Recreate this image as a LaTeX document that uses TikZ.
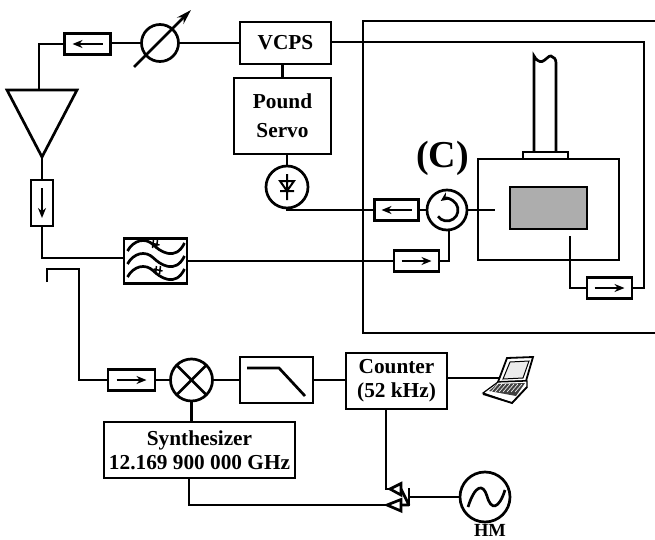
\documentclass[tikz,border=0pt]{standalone}
\usepackage{fontspec}
\setmainfont{Liberation Serif}
\usetikzlibrary{positioning,arrows.meta,shapes.geometric}
\begin{document}
\begin{tikzpicture}[
  x=1pt, y=-1pt,
  line width=2.7pt,
  >={Stealth[length=10pt,width=8pt]},
  box/.style={draw, line width=2.9pt, outer sep=0pt, inner sep=0pt, align=center, font=\fontsize{21.3}{24}\selectfont\bfseries},
  iso/.style={draw, line width=2.7pt, outer sep=0pt, inner sep=0pt},
  isoright/.style={iso, minimum width=46pt, minimum height=21pt, path picture={\draw[->, line width=2.4pt] ([xshift=-15pt]path picture bounding box.center) -- ([xshift=15pt]path picture bounding box.center);}},
  isoleft/.style={iso, minimum width=46pt, minimum height=21pt, path picture={\draw[->, line width=2.4pt] ([xshift=15pt]path picture bounding box.center) -- ([xshift=-15pt]path picture bounding box.center);}},
  isodown/.style={iso, minimum width=22pt, minimum height=46pt, path picture={\draw[->, line width=2.4pt] ([yshift=15pt]path picture bounding box.center) -- ([yshift=-15pt]path picture bounding box.center);}},
  ring/.style={draw, circle, line width=2.7pt, outer sep=0pt, inner sep=0pt, minimum size=#1},
  amp/.style={draw, isosceles triangle, isosceles triangle stretches, shape border rotate=270, line width=2.7pt, outer sep=0pt, inner sep=0pt, minimum width=70pt, minimum height=67pt}
]
\useasboundingbox (0,0) rectangle (655,540);

% loop
\node[box, minimum width=91pt, minimum height=42pt] (vcps) at (285.5,43) {VCPS};
\node[box, minimum width=97pt, minimum height=76pt, below=14pt of vcps, xshift=-3pt] (servo) {Pound\\[5pt]Servo};
\node[ring=37pt, left=61.5pt of vcps] (phase) {};
\node[isoleft, left=31pt of phase, yshift=-1pt] (isotop) {};
\node[amp, anchor=apex] (amp) at (42,157) {};
\node[isodown, below=23pt of amp.apex] (isodn) {};
\node[box, minimum width=63pt, minimum height=45pt] (filter) at (155.5,261) {};
\node[ring=42pt] (diode) at (287,187) {};
\node[ring=40pt] (circ) at (447,210) {};
\node[isoleft, left=8.5pt of circ, minimum width=44pt] (isoback) {};
\node[isoright, minimum width=45pt] (isoin) at (416.5,261) {};

% cavity
\node[box, minimum width=141pt, minimum height=101pt] (cavity) at (548.5,209.5) {};
\node[draw, line width=2.7pt, fill=black!32, outer sep=0pt, minimum width=77pt, minimum height=42pt] (sample) at (548.5,208) {};
\node[draw, line width=2.5pt, outer sep=0pt, minimum width=45pt, minimum height=7pt, above=0pt of cavity, xshift=-3pt] (flange) {};
\node[isoright, minimum width=45pt] (isoout) at (609.5,288) {};
\node[font=\fontsize{38}{38}\selectfont\bfseries] (clabel) at (442.5,158) {(C)};
\coordinate (enclo) at (363,21);
\coordinate (encbot) at (363,333);
\coordinate (encr) at (657,21);
\coordinate (encs) at (657,333);
\coordinate (probein) at (495,210);
\coordinate (probeout) at (570,236);
\coordinate (feedr) at (644,42);
\coordinate (stack) at (545,56);

% detection chain
\node[isoright, minimum width=47pt] (isolow) at (131.5,380) {};
\node[ring=42pt, right=15.5pt of isolow] (mixer) {};
\node[box, minimum width=73pt, minimum height=46pt] (lpf) at (276.5,380) {};
\node[box, minimum width=101pt, minimum height=56pt] (counter) at (396.5,381) {Counter\\(52 kHz)};
\node[box, minimum width=191pt, minimum height=56pt] (synth) at (199.5,450) {Synthesizer\\12.169 900 000 GHz};
\node[ring=50pt] (hm) at (485,497) {};
\node[font=\fontsize{18.5}{18.5}\selectfont\bfseries, inner sep=0pt] (hmlabel) at (490,530.5) {HM};
\coordinate (hookl) at (47,282);
\coordinate (hookm) at (47,269);
\coordinate (hookr) at (79,269);
\coordinate (laptop) at (500,378);

\draw (vcps) -- (phase);
\draw (phase.west) -- (phase.west-|isotop.east);
\draw (isotop.west) -| ([xshift=-3pt]amp.north);
\draw (amp.apex) -- (isodn);
\draw (isodn.south) |- ([yshift=3pt]filter.west);
\draw (filter) -- (filter.east-|isoin.west);
\draw (servo.north) -- (servo.north|-vcps.south);
\draw (servo.south-|diode.north) -- (diode.north);
\draw (diode.south) |- (isoback.west);
\draw (isoback) -- (circ);
\draw (circ) -- (probein);
\draw (isoin.east) -| ([xshift=2pt]circ.south);
\draw (vcps.east|-feedr) -- (feedr) -- (feedr|-isoout) -- (isoout.east);
\draw (probeout) |- (isoout.west);

% enclosure
\draw (encr) -- (enclo) -- (encbot) -- (encs);

% chimney
\draw[shift={(stack)}] (-11,96) -- (-11,0) .. controls (-9,4) and (-6,6) .. (-3,5.5) .. controls (0,5) and (4,-1) .. (6,0) .. controls (9,1) and (11,3) .. (11,7) -- (11,96);

% phase shifter arrow
\draw[-{Stealth[length=15pt,width=9pt]}] (134,67) -- (191,10);

% filter waves
\foreach \dy in {-13,0,13}
  \draw[shift={(filter.center)}] (-28,3+\dy) .. controls (-22,-8+\dy) and (-10,-11+\dy) .. (-2,-3+\dy) .. controls (4,3+\dy) and (20,14+\dy) .. (29,-5+\dy);
\foreach \cx/\cy in {0/-17,3/9}
  \draw[shift={(filter.center)}, line width=1.5pt] (\cx-2,\cy-4) -- (\cx-3,\cy+4) (\cx+2,\cy-4) -- (\cx+1,\cy+4) (\cx-5,\cy-1) -- (\cx+4,\cy+1);

% diode
\draw[shift={(diode.center)}, line width=2pt] (0,-13) -- (0,13) (-7,4) -- (7,4) (-7,-6) -- (7,-6) -- (0,4) -- cycle;

% circulator
\draw[{Stealth[length=9pt,width=8pt]}-] ([shift={(-6.3,-9)}]circ.center) arc (125:-145:11pt);

% mixer
\draw (mixer.north west) -- (mixer.south east);
\draw (mixer.north east) -- (mixer.south west);
\draw (mixer) -- (lpf);
\draw (lpf) -- (lpf.east-|counter.west);
\draw (mixer.south) -- (mixer.south|-synth.north);
\draw (isolow) -- (mixer);

% coupler hook
\draw (hookl) -- (hookm) -- (hookr) |- (isolow.west);

% low pass
\draw[shift={(lpf.center)}] (-29.5,-12) -- (2.5,-12) -- (28.5,16);

% heterodyne beat
\draw[shift={(hm.center)}] (-17,10) .. controls (-10,-12) and (-2,-14) .. (2,-1) .. controls (6,14) and (14,12) .. (20,-7);

% combiner
\coordinate (tipa) at (390,489);
\coordinate (tipb) at (387,505);
\coordinate (joint) at (409,497);
\draw (hm.west) -- (joint);
\draw ([yshift=-9pt]joint) -- ([yshift=9pt]joint);
\draw ([yshift=-8pt]joint) -- (401,489) (joint|-tipb) -- (401,505);
\draw (401,483.5) -- (401,495) -- (tipa) -- cycle;
\draw (401,499.5) -- (401,511) -- (tipb) -- cycle;
\draw (counter.south-|tipa) ++(-4,0) |- (tipa);
\draw (synth.south-|189,0) |- (tipb);

% laptop
\draw (counter.east|-laptop) -- (laptop);
\draw[line width=1.8pt, fill=white] (507,358) -- (533,357) -- (526,381) -- (498,382) -- cycle;
\draw[line width=1pt, fill=black!8] (510,362) -- (529,361) -- (523,378) -- (503,379) -- cycle;
\draw[line width=1.2pt, fill=white] (498,382) -- (527,381) -- (527,387) -- (512,403) -- (483,393) -- cycle;
\fill[black!75] (497,384) -- (525,383) -- (516,396) -- (489,391) -- cycle;
\foreach \kx in {0,4,...,24}
  \draw[white, line width=.6pt] (498+\kx,384) -- (491+\kx,392);
\draw[line width=1.8pt] (483,394) -- (512,403) -- (527,387);
\end{tikzpicture}
\end{document}
